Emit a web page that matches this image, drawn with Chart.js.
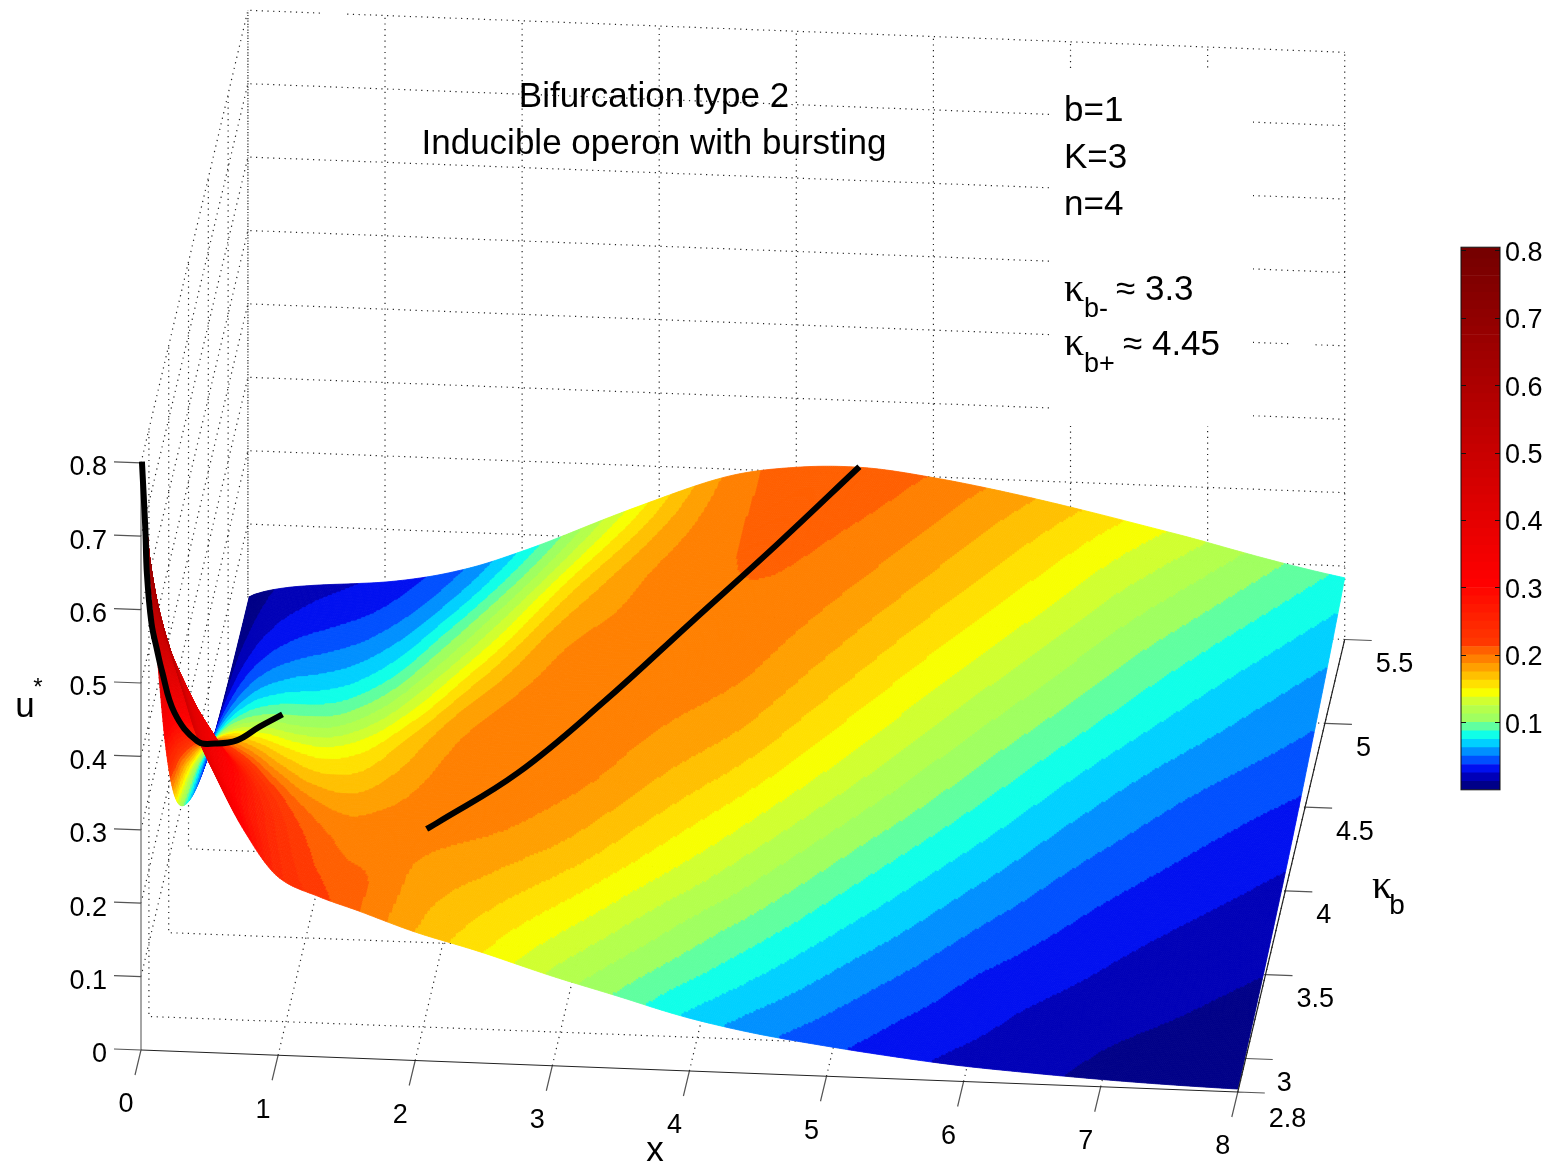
<!DOCTYPE html>
<html>
<head>
<meta charset="utf-8">
<style>
  html, body { margin: 0; padding: 0; background: #fff; }
  #main { position: absolute; left: 0; top: 0; }
  #bar { position: absolute; left: 1440px; top: 226px; }
</style>
<script src="https://cdn.jsdelivr.net/npm/chart.js@4"></script>
</head>
<body>
<canvas id="main" width="1552" height="1163"></canvas>
<canvas id="bar" width="112" height="585"></canvas>
<script>
// 曲面读数:U_TABLE 每行对应一个 kappa,每列对应一个 x
const X_GRID = [0.01, 0.04, 0.08, 0.13, 0.2, 0.3, 0.4, 0.55, 0.75, 1, 1.3, 1.6, 2, 2.5, 3, 3.5, 4, 4.5, 5, 5.5, 6, 6.5, 7, 8];
const K_GRID = [2.8, 3, 3.2, 3.4, 3.7, 4, 4.3, 4.6, 5, 5.5];
const U_TABLE = [
  [0.80, 0.71, 0.65, 0.60, 0.555, 0.495, 0.435, 0.375, 0.305, 0.243, 0.218, 0.20, 0.175, 0.15, 0.122, 0.097, 0.072, 0.054, 0.041, 0.03, 0.021, 0.015, 0.01, 0.004],
  [0.60, 0.57, 0.545, 0.515, 0.475, 0.425, 0.38, 0.325, 0.272, 0.23, 0.208, 0.20, 0.18, 0.162, 0.139, 0.114, 0.09, 0.069, 0.052, 0.038, 0.028, 0.019, 0.013, 0.0065],
  [0.43, 0.44, 0.44, 0.43, 0.41, 0.375, 0.345, 0.30, 0.253, 0.218, 0.20, 0.192, 0.187, 0.176, 0.157, 0.131, 0.106, 0.084, 0.064, 0.048, 0.034, 0.025, 0.018, 0.009],
  [0.272, 0.31, 0.32, 0.32, 0.315, 0.30, 0.28, 0.255, 0.225, 0.201, 0.189, 0.19, 0.193, 0.189, 0.174, 0.149, 0.124, 0.099, 0.077, 0.059, 0.043, 0.032, 0.023, 0.012],
  [0.131, 0.176, 0.199, 0.212, 0.218, 0.217, 0.21, 0.198, 0.182, 0.17, 0.168, 0.177, 0.191, 0.196, 0.19, 0.171, 0.148, 0.122, 0.097, 0.076, 0.058, 0.043, 0.032, 0.018],
  [0.067, 0.104, 0.126, 0.141, 0.151, 0.157, 0.156, 0.152, 0.145, 0.141, 0.147, 0.162, 0.183, 0.195, 0.195, 0.186, 0.171, 0.145, 0.119, 0.095, 0.074, 0.056, 0.043, 0.025],
  [0.033, 0.058, 0.075, 0.088, 0.099, 0.106, 0.109, 0.11, 0.108, 0.109, 0.12, 0.138, 0.165, 0.188, 0.196, 0.194, 0.186, 0.164, 0.139, 0.114, 0.091, 0.071, 0.055, 0.034],
  [0.015, 0.031, 0.043, 0.053, 0.062, 0.07, 0.074, 0.077, 0.078, 0.082, 0.094, 0.114, 0.143, 0.177, 0.191, 0.197, 0.194, 0.179, 0.157, 0.133, 0.11, 0.088, 0.07, 0.045],
  [0.0053, 0.0129, 0.0197, 0.0258, 0.0321, 0.038, 0.0417, 0.0454, 0.0485, 0.0536, 0.0651, 0.0838, 0.113, 0.153, 0.181, 0.196, 0.202, 0.194, 0.178, 0.157, 0.135, 0.111, 0.091, 0.06],
  [0.0013, 0.0039, 0.0066, 0.0095, 0.0126, 0.016, 0.0184, 0.0212, 0.024, 0.0282, 0.0371, 0.0508, 0.0773, 0.117, 0.156, 0.19, 0.206, 0.209, 0.199, 0.184, 0.166, 0.146, 0.125, 0.084],
];

// 两段黑色众数曲线
const LEFT_X = [0.001, 0.002, 0.003, 0.01, 0.03, 0.05, 0.1, 0.19, 0.26, 0.35, 0.45, 0.57];
const LEFT_K = [2.82, 2.9, 2.94, 3.03, 3.1, 3.15, 3.3, 3.57, 3.77, 4.01, 4.24, 4.4];
const LEFT_U = [0.797, 0.69, 0.616, 0.529, 0.477, 0.438, 0.346, 0.246, 0.198, 0.148, 0.115, 0.096];
const RIGHT_X = [1.93, 2, 2.5, 3, 3.5, 4, 4.46];
const RIGHT_K = [3.33, 3.35, 3.66, 4.1, 4.56, 5.03, 5.5];
const RIGHT_U = [0.194, 0.198, 0.199, 0.199, 0.205, 0.209, 0.21];

const X_TICKS = [0, 1, 2, 3, 4, 5, 6, 7, 8];
const K_TICKS = [2.8, 3, 3.5, 4, 4.5, 5, 5.5];
const K_GRID_LINES = [3, 3.5, 4, 4.5, 5, 5.5];
const U_TICKS = [0, 0.1, 0.2, 0.3, 0.4, 0.5, 0.6, 0.7, 0.8];
const BAR_TICKS = [0.1, 0.2, 0.3, 0.4, 0.5, 0.6, 0.7, 0.8];

// 64 级色表,每级宽 0.0125
const BAND = 0.0125;
const COLORS = [
  "#000088", "#0000b8", "#0010f0", "#0050ff", "#0090ff", "#00d0ff", "#10ffe8", "#60ffa0",
  "#a0ff60", "#b4ff4c", "#d0ff30", "#f8ff00", "#ffe000", "#ffc000", "#ffa000", "#ff8000",
  "#ff6000", "#ff3800", "#ff3000", "#ff2800", "#ff2000", "#ff1800", "#ff1000", "#ff0800",
  "#ff0000", "#fb0000", "#f80000", "#f40000", "#f10000", "#ed0000", "#ea0000", "#e60000",
  "#e30000", "#df0000", "#dc0000", "#d80000", "#d50000", "#d10000", "#ce0000", "#ca0000",
  "#c70000", "#c30000", "#c00000", "#bc0000", "#b90000", "#b50000", "#b20000", "#ae0000",
  "#ab0000", "#a70000", "#a40000", "#a00000", "#9d0000", "#990000", "#960000", "#920000",
  "#8f0000", "#8b0000", "#880000", "#840000", "#810000", "#7d0000", "#7a0000", "#760000",
];

// 正交投影:原点 (x=0, kappa=2.8, u=0),三根轴在画面平面上的单位向量
function project(x, k, u) {
  const t = k - 2.8;
  return {
    x: 141 + 137.1 * x + 39.6 * t,
    y: 1050 + 5.25 * x - 167.6 * t - 734 * u,
  };
}

function polyline(list) {
  const pts = [];
  list.forEach(function (seg) {
    seg.forEach(p => pts.push(project(p[0], p[1], p[2])));
    pts.push({ x: null, y: null }); // 断开
  });
  return pts;
}

// 网格线:地面、后墙、左墙
function gridSegments() {
  const segs = [];
  const kMax = 5.5, kMin = 2.8;
  X_TICKS.slice(1).forEach(function (x) {
    segs.push([[x, kMin, 0], [x, kMax, 0], [x, kMax, 0.8]]);
  });
  K_GRID_LINES.forEach(function (k) {
    segs.push([[8, k, 0], [0, k, 0], [0, k, 0.8]]);
  });
  U_TICKS.slice(1).forEach(function (u) {
    segs.push([[0, kMin, u], [0, kMax, u], [8, kMax, u]]);
  });
  segs.push([[0, kMax, 0], [0, kMax, 0.8]]);
  return segs;
}

function axisSegments() {
  return [[[0, 2.8, 0], [8, 2.8, 0], [8, 5.5, 0]]];
}

// 刻度短线长度是画面尺寸,不随数据变
function tickPoints() {
  const pts = [];
  X_TICKS.forEach(function (x) {
    const p = project(x, 2.8, 0);
    pts.push(p, { x: p.x - 6, y: p.y + 25 }, { x: null, y: null });
  });
  K_TICKS.forEach(function (k) {
    const p = project(8, k, 0);
    pts.push(p, { x: p.x + 27, y: p.y + 1 }, { x: null, y: null });
  });
  U_TICKS.forEach(function (u) {
    const p = project(0, 2.8, u);
    pts.push(p, { x: p.x - 27, y: p.y - 1 }, { x: null, y: null });
  });
  return pts;
}

// 曲面取样:在读数表的对数上做非等距 Hermite 细分,仅用于着色
function hermite(xs, ys, v) {
  let i = 0;
  while (i < xs.length - 2 && v > xs[i + 1]) i++;
  const h = xs[i + 1] - xs[i];
  const slope = function (j) {
    const a = Math.max(j - 1, 0), b = Math.min(j + 1, xs.length - 1);
    return (ys[b] - ys[a]) / (xs[b] - xs[a]);
  };
  const s = (v - xs[i]) / h, s2 = s * s, s3 = s2 * s;
  return (2 * s3 - 3 * s2 + 1) * ys[i] + (s3 - 2 * s2 + s) * h * slope(i)
    + (-2 * s3 + 3 * s2) * ys[i + 1] + (s3 - s2) * h * slope(i + 1);
}

function fineAxis(grid, pxPerUnit, minSteps) {
  const out = [];
  for (let i = 0; i < grid.length - 1; i++) {
    const d = grid[i + 1] - grid[i];
    const n = Math.max(minSteps, Math.ceil(d * pxPerUnit));
    for (let j = 0; j < n; j++) out.push(grid[i] + d * j / n);
  }
  out.push(grid[grid.length - 1]);
  return out;
}

const surfacePlugin = {
  id: "surface",
  beforeDatasetDraw(chart, args) {
    if (chart.data.datasets[args.index].id !== "surface") return;
    const ctx = chart.ctx, sx = chart.scales.x, sy = chart.scales.y;
    const fx = fineAxis(X_GRID, 70, 8);
    const fk = fineAxis(K_GRID, 90, 4);
    const logs = U_TABLE.map(row => row.map(Math.log));
    const rows = logs.map(row => fx.map(v => hermite(X_GRID, row, v)));
    const colVals = new Array(K_GRID.length);
    let prev = null;
    ctx.save();

    // 文字框的白底盖住网格
    ctx.fillStyle = "#fff";
    WHITE_BOXES.forEach(b => ctx.fillRect(b[0], b[1], b[2], b[3]));

    ctx.lineWidth = 0.8;
    ctx.lineJoin = "round";
    // 画家算法:kappa 从远到近
    for (let j = fk.length - 1; j >= 0; j--) {
      const line = fx.map(function (v, i) {
        for (let r = 0; r < K_GRID.length; r++) colVals[r] = rows[r][i];
        const u = Math.exp(hermite(K_GRID, colVals, fk[j]));
        const p = project(v, fk[j], u);
        return { u: u, px: sx.getPixelForValue(p.x), py: sy.getPixelForValue(p.y) };
      });
      if (prev) {
        for (let i = 0; i < fx.length - 1; i++) {
          const um = (line[i].u + line[i + 1].u + prev[i].u + prev[i + 1].u) / 4;
          const c = COLORS[Math.min(63, Math.floor(um / BAND))];
          ctx.fillStyle = c;
          ctx.strokeStyle = c;
          ctx.beginPath();
          ctx.moveTo(line[i].px, line[i].py);
          ctx.lineTo(line[i + 1].px, line[i + 1].py);
          ctx.lineTo(prev[i + 1].px, prev[i + 1].py);
          ctx.lineTo(prev[i].px, prev[i].py);
          ctx.closePath();
          ctx.fill();
          ctx.stroke();
        }
      }
      prev = line;
    }
    ctx.restore();
  },
};

const SANS = '"Liberation Sans", Arial, sans-serif';
const SERIF = '"Liberation Serif", serif';
const WHITE_BOXES = [[1050, 72, 203, 354], [1290, 335, 24, 16], [322, 5, 25, 14]];

// 自由文字:[内容, x, y, 字号, 字体, 对齐]
const TEXTS = [
  ["Bifurcation type 2", 654, 97, 35, SANS, "center"],
  ["Inducible operon with bursting", 654, 144, 35, SANS, "center"],
  ["b=1", 1064, 111, 35, SANS, "left"],
  ["K=3", 1064, 158, 35, SANS, "left"],
  ["n=4", 1064, 205, 35, SANS, "left"],
  ["κ", 1064, 290, 40, SERIF, "left"],
  ["b-", 1084, 310, 27, SANS, "left"],
  ["≈ 3.3", 1116, 290, 35, SANS, "left"],
  ["κ", 1064, 344, 40, SERIF, "left"],
  ["b+", 1084, 365, 27, SANS, "left"],
  ["≈ 4.45", 1123, 345, 35, SANS, "left"],
  ["x", 655, 1151, 35, SANS, "center"],
  ["u", 25, 707, 35, SANS, "center"],
  ["*", 38, 688, 24, SANS, "center"],
  ["κ", 1382, 887, 40, SERIF, "center"],
  ["b", 1397, 906, 28, SANS, "center"],
];

const labelPlugin = {
  id: "labels",
  afterDraw(chart) {
    const ctx = chart.ctx, sx = chart.scales.x, sy = chart.scales.y;
    ctx.save();
    ctx.fillStyle = "#000";
    ctx.textBaseline = "middle";
    ctx.font = "27px " + SANS;
    ctx.textAlign = "center";
    X_TICKS.forEach(function (x) {
      const p = project(x, 2.8, 0);
      ctx.fillText(String(x), sx.getPixelForValue(p.x) - 15, sy.getPixelForValue(p.y) + 55);
    });
    ctx.textAlign = "left";
    K_TICKS.forEach(function (k) {
      const p = project(8, k, 0);
      ctx.fillText(String(k), sx.getPixelForValue(p.x) + 31, sy.getPixelForValue(p.y) + (k === 2.8 ? 28 : 25));
    });
    ctx.textAlign = "right";
    U_TICKS.forEach(function (u) {
      const p = project(0, 2.8, u);
      ctx.fillText(String(u), sx.getPixelForValue(p.x) - 34, sy.getPixelForValue(p.y) + 5);
    });
    TEXTS.forEach(function (t) {
      ctx.font = t[3] + "px " + t[4];
      ctx.textAlign = t[5];
      ctx.fillText(t[0], t[1], t[2]);
    });
    ctx.restore();
  },
};

function triples(xs, ks, us) {
  return xs.map((x, i) => project(x, ks[i], us[i]));
}

new Chart(document.getElementById("main"), {
  type: "scatter",
  data: {
    datasets: [
      { id: "left", data: triples(LEFT_X, LEFT_K, LEFT_U), showLine: true, borderColor: "#000", borderWidth: 6, pointRadius: 0, tension: 0.4, order: 0 },
      { id: "right", data: triples(RIGHT_X, RIGHT_K, RIGHT_U), showLine: true, borderColor: "#000", borderWidth: 6, pointRadius: 0, tension: 0.4, order: 0 },
      { id: "axes", data: polyline(axisSegments()), showLine: true, borderColor: "#222", borderWidth: 1.2, pointRadius: 0, spanGaps: false, order: 1 },
      { id: "ticks", data: tickPoints(), showLine: true, borderColor: "#555", borderWidth: 1.2, pointRadius: 0, spanGaps: false, order: 1 },
      { id: "zaxis", data: polyline([[[0, 2.8, 0], [0, 2.8, 0.8]]]), showLine: true, borderColor: "#888", borderWidth: 1.5, pointRadius: 0, spanGaps: false, order: 1 },
      { id: "surface", data: [], order: 2 },
      { id: "grid", data: polyline(gridSegments()), showLine: true, borderColor: "#222", borderWidth: 1.2, borderDash: [1.2, 4.5], pointRadius: 0, spanGaps: false, order: 3 },
    ],
  },
  options: {
    responsive: false,
    animation: false,
    devicePixelRatio: 1,
    events: [],
    layout: { padding: 0 },
    scales: {
      x: { type: "linear", min: 0, max: 1552, display: false },
      y: { type: "linear", min: 0, max: 1163, reverse: true, display: false },
    },
    plugins: { legend: { display: false }, tooltip: { enabled: false } },
  },
  plugins: [surfacePlugin, labelPlugin],
});

// 色条:每级一个堆叠柱段
const barFrame = {
  id: "barFrame",
  afterDraw(chart) {
    const ctx = chart.ctx, a = chart.chartArea, y = chart.scales.y;
    ctx.save();
    ctx.strokeStyle = "#111";
    ctx.lineWidth = 1;
    ctx.strokeRect(a.left, a.top, a.right - a.left, a.bottom - a.top);
    BAR_TICKS.forEach(function (v) {
      const py = Math.round(y.getPixelForValue(v)) + 0.5;
      ctx.beginPath();
      ctx.moveTo(a.left, py); ctx.lineTo(a.left + 5, py);
      ctx.moveTo(a.right - 5, py); ctx.lineTo(a.right, py);
      ctx.stroke();
    });
    ctx.restore();
  },
};

new Chart(document.getElementById("bar"), {
  type: "bar",
  data: {
    labels: ["u"],
    datasets: COLORS.map((c, i) => ({
      data: [i === 63 ? BAND + 0.0045 : BAND],
      backgroundColor: c,
      borderWidth: 0,
      stack: "s",
    })),
  },
  options: {
    responsive: false,
    animation: false,
    devicePixelRatio: 1,
    events: [],
    layout: { padding: { left: 21, top: 17, bottom: 15 } },
    datasets: { bar: { barPercentage: 1, categoryPercentage: 1 } },
    scales: {
      x: { stacked: true, display: false },
      y: {
        stacked: true,
        position: "right",
        min: 0,
        max: 0.8045,
        afterFit(s) { s.width = 52; },
        afterBuildTicks(s) { s.ticks = BAR_TICKS.map(v => ({ value: v })); },
        grid: { display: false, drawTicks: false, tickLength: 0 },
        border: { display: false },
        ticks: {
          color: "#000",
          padding: 5,
          labelOffset: 3,
          font: { size: 27, family: SANS },
          callback: v => String(v),
        },
      },
    },
    plugins: { legend: { display: false }, tooltip: { enabled: false } },
  },
  plugins: [barFrame],
});
</script>
</body>
</html>
